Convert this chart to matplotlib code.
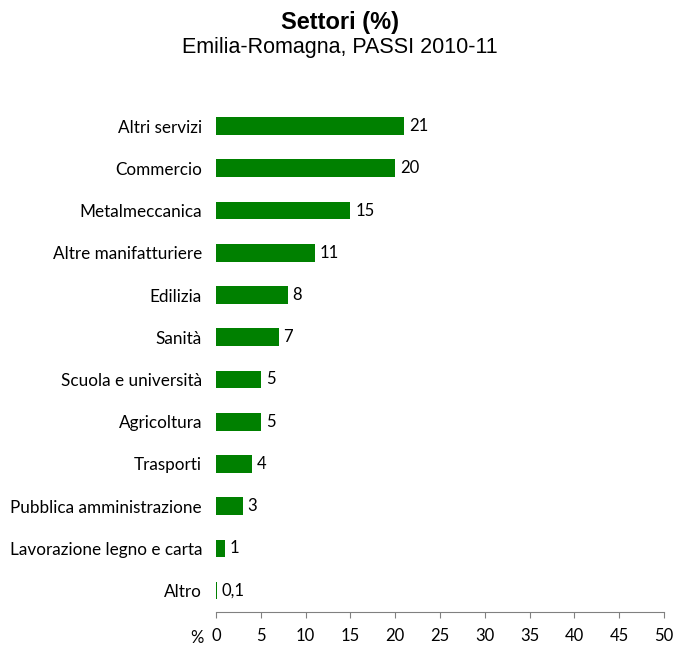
import matplotlib
matplotlib.use("Agg")
import matplotlib.pyplot as plt

categories = [
    "Altri servizi", "Commercio", "Metalmeccanica", "Altre manifatturiere",
    "Edilizia", "Sanità", "Scuola e università", "Agricoltura", "Trasporti",
    "Pubblica amministrazione", "Lavorazione legno e carta", "Altro",
]
values = [21, 20, 15, 11, 8, 7, 5, 5, 4, 3, 1, 0.1]
value_labels = ["21", "20", "15", "11", "8", "7", "5", "5", "4", "3", "1", "0,1"]
x_ticks = [0, 5, 10, 15, 20, 25, 30, 35, 40, 45, 50]

label_font = "Lato"
title_font = "Liberation Sans"
fs = 12
cat_fs = 12.3

fig = plt.figure(figsize=(6.75, 6.48), dpi=100)
ax = fig.add_axes([0.32, 0.056, 0.6637, 0.782])

ypos = list(range(len(categories)))
ax.barh(ypos, values, height=0.42, color="#008000", linewidth=0)
for y, v, lab in zip(ypos, values, value_labels):
    ax.annotate(lab, (v, y), xytext=(3.5, 0), textcoords="offset points",
                va="center", ha="left", fontsize=fs, family=label_font)

ax.set_ylim(len(categories) - 0.5, -0.5)
ax.set_xlim(0, 50)
ax.set_yticks(ypos)
ax.set_yticklabels(categories, fontsize=cat_fs, family=label_font)
ax.tick_params(axis="y", length=0, pad=10)
ax.set_xticks(x_ticks)
ax.set_xticklabels([str(t) for t in x_ticks], fontsize=fs, family=label_font)
ax.tick_params(axis="x", direction="out", length=4, color="#808080", pad=8)

for s in ("top", "right", "left"):
    ax.spines[s].set_visible(False)
ax.spines["bottom"].set_color("#808080")

# unit marker to the left of the x tick labels
fig.text(197 / 675, 1 - 638 / 648, "%", ha="center", va="center",
         fontsize=fs, family=label_font)

fig.text(0.504, 1 - 22 / 648, "Settori (%)", ha="center", va="center",
         fontsize=17, fontweight="bold", family=title_font)
fig.text(0.504, 1 - 48 / 648, "Emilia-Romagna, PASSI 2010-11", ha="center",
         va="center", fontsize=15.5, family=title_font)

fig.savefig("out.png", dpi=100)
